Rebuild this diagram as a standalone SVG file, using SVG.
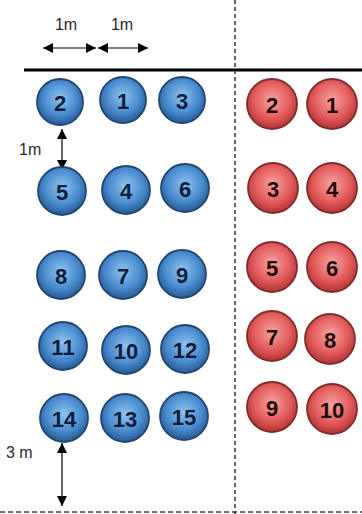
<svg xmlns="http://www.w3.org/2000/svg" width="362" height="514" viewBox="0 0 362 514">
<defs>
<radialGradient id="gb" cx="50%" cy="42%" r="55%">
<stop offset="0" stop-color="#8fc3ef"/>
<stop offset="0.65" stop-color="#4a8cd0"/>
<stop offset="1" stop-color="#2a609c"/>
</radialGradient>
<radialGradient id="gr" cx="50%" cy="42%" r="55%">
<stop offset="0" stop-color="#f7a3a3"/>
<stop offset="0.65" stop-color="#e45c5c"/>
<stop offset="1" stop-color="#ba3838"/>
</radialGradient>
<marker id="ah" viewBox="0 0 10 10" refX="10" refY="5" markerWidth="11" markerHeight="10" markerUnits="userSpaceOnUse" orient="auto-start-reverse">
<path d="M0,0 L10,5 L0,10 z" fill="#000"/>
</marker>
</defs>
<style>
.b circle{fill:url(#gb);stroke:#23466e;stroke-width:1.8}
.r circle{fill:url(#gr);stroke:#7e2c2c;stroke-width:1.8}
.b text,.r text{font-family:"Liberation Sans",Arial,sans-serif;font-weight:bold;font-size:22px;text-anchor:middle;dominant-baseline:central}
.b text{fill:#0f1d38}
.r text{fill:#230a0a}
.lbl{font-family:"Liberation Sans",Arial,sans-serif;font-size:16px;fill:#2a2a2a}
.arr{stroke:#000;stroke-width:1.2;fill:none;marker-start:url(#ah);marker-end:url(#ah)}
</style>
<rect width="362" height="514" fill="#fff"/>
<g id="lines">
<line x1="24" y1="70" x2="362" y2="70" stroke="#000" stroke-width="3"/>
<line x1="235" y1="0" x2="235" y2="514" stroke="#333" stroke-width="1.5" stroke-dasharray="4 3"/>
<line x1="0" y1="512" x2="362" y2="512" stroke="#444" stroke-width="1.5" stroke-dasharray="5 3"/>
</g>
<g id="connectors">
<line class="arr" x1="43" y1="48" x2="96" y2="48"/>
<line class="arr" x1="98" y1="48" x2="148" y2="48"/>
<line class="arr" x1="62" y1="129" x2="62" y2="170"/>
<line class="arr" x1="62" y1="443" x2="62" y2="506"/>
</g>
<g id="labels">
<text class="lbl" x="66" y="30" text-anchor="middle">1m</text>
<text class="lbl" x="122" y="30" text-anchor="middle">1m</text>
<text class="lbl" x="19" y="155">1m</text>
<text class="lbl" x="6" y="458">3 m</text>
</g>
<g id="b2" class="b"><circle cx="60" cy="102" r="23"/><text x="60" y="103">2</text></g>
<g id="b1" class="b"><circle cx="123" cy="100" r="23"/><text x="123" y="101">1</text></g>
<g id="b3" class="b"><circle cx="182" cy="100" r="23"/><text x="182" y="101">3</text></g>
<g id="b5" class="b"><circle cx="62" cy="191" r="24"/><text x="62" y="192">5</text></g>
<g id="b4" class="b"><circle cx="126" cy="190" r="24"/><text x="126" y="191">4</text></g>
<g id="b6" class="b"><circle cx="185" cy="188" r="24"/><text x="185" y="189">6</text></g>
<g id="b8" class="b"><circle cx="61" cy="275" r="24"/><text x="61" y="276">8</text></g>
<g id="b7" class="b"><circle cx="123" cy="275" r="24"/><text x="123" y="276">7</text></g>
<g id="b9" class="b"><circle cx="182" cy="274" r="24"/><text x="182" y="275">9</text></g>
<g id="b11" class="b"><circle cx="63" cy="346" r="24"/><text x="63" y="347">11</text></g>
<g id="b10" class="b"><circle cx="126" cy="350" r="24"/><text x="126" y="351">10</text></g>
<g id="b12" class="b"><circle cx="185" cy="349" r="24"/><text x="185" y="350">12</text></g>
<g id="b14" class="b"><circle cx="64" cy="418" r="24"/><text x="64" y="419">14</text></g>
<g id="b13" class="b"><circle cx="125" cy="418" r="24"/><text x="125" y="419">13</text></g>
<g id="b15" class="b"><circle cx="184" cy="416" r="24"/><text x="184" y="417">15</text></g>
<g id="r2" class="r"><circle cx="272" cy="104" r="25"/><text x="272" y="105">2</text></g>
<g id="r1" class="r"><circle cx="332" cy="104" r="25"/><text x="332" y="105">1</text></g>
<g id="r3" class="r"><circle cx="273" cy="188" r="25"/><text x="273" y="189">3</text></g>
<g id="r4" class="r"><circle cx="332" cy="188" r="25"/><text x="332" y="189">4</text></g>
<g id="r5" class="r"><circle cx="272" cy="267" r="25"/><text x="272" y="268">5</text></g>
<g id="r6" class="r"><circle cx="332" cy="267" r="25"/><text x="332" y="268">6</text></g>
<g id="r7" class="r"><circle cx="272" cy="336" r="25"/><text x="272" y="337">7</text></g>
<g id="r8" class="r"><circle cx="330" cy="339" r="25"/><text x="330" y="340">8</text></g>
<g id="r9" class="r"><circle cx="272" cy="407" r="25"/><text x="272" y="408">9</text></g>
<g id="r10" class="r"><circle cx="332" cy="409" r="25"/><text x="332" y="410">10</text></g>
</svg>
